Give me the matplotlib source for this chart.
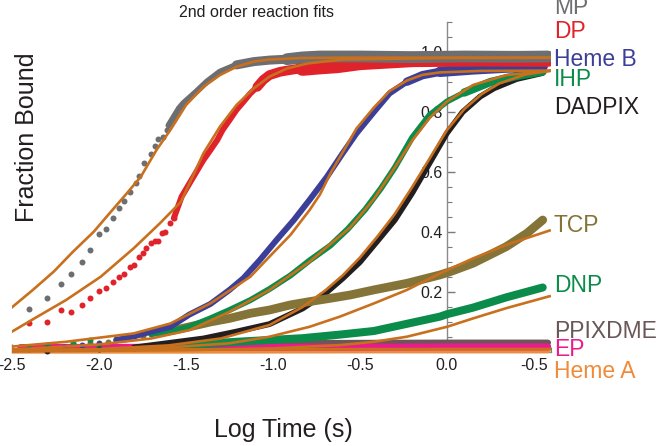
import matplotlib
matplotlib.use('Agg')
import matplotlib.pyplot as plt
from matplotlib.ticker import MultipleLocator, FixedLocator

plt.rcParams['font.family'] = ['Liberation Sans', 'DejaVu Sans']

# ---- data (log time in s, fraction bound) ----
# sparse early points (individual dots)
mp_dot_x = [-2.40, -2.30, -2.22, -2.16, -2.10, -2.05, -2.00, -1.96, -1.92, -1.885, -1.855,
            -1.82, -1.79, -1.77, -1.74, -1.70, -1.68, -1.66, -1.63, -1.61]
mp_dot_y = [0.142, 0.179, 0.227, 0.260, 0.300, 0.339, 0.393, 0.409, 0.448, 0.479, 0.503,
            0.532, 0.564, 0.587, 0.631, 0.660, 0.687, 0.711, 0.716, 0.740]
dp_dot_x = [-2.40, -2.30, -2.22, -2.16, -2.10, -2.05, -2.00, -1.96, -1.92, -1.885, -1.855,
            -1.82, -1.80, -1.77, -1.75, -1.73, -1.70, -1.68, -1.66, -1.64, -1.62, -1.59, -1.57]
dp_dot_y = [0.096, 0.101, 0.140, 0.134, 0.157, 0.179, 0.203, 0.212, 0.234, 0.251, 0.260,
            0.284, 0.290, 0.318, 0.329, 0.346, 0.362, 0.371, 0.370, 0.398, 0.401, 0.429, 0.446]

# dense bands (centre of the cloud of points)
mp_x = [-1.60, -1.54, -1.515, -1.44, -1.38, -1.305, -1.21, -1.11, -1.02, -0.92, -0.83, -0.73,
        -0.50, -0.20, 0.10, 0.40, 0.58]
mp_y = [0.755, 0.812, 0.829, 0.868, 0.901, 0.934, 0.957, 0.968, 0.973, 0.976, 0.982, 0.985,
        0.985, 0.983, 0.985, 0.984, 0.985]
dp_x = [-1.57, -1.525, -1.48, -1.44, -1.40, -1.36, -1.32, -1.29, -1.25, -1.21, -1.17, -1.13,
        -1.09, -1.056, -1.02, -0.96, -0.90, -0.83, -0.73, -0.63, -0.50, -0.20, 0.20, 0.58]
dp_y = [0.446, 0.518, 0.562, 0.601, 0.640, 0.673, 0.707, 0.740, 0.773, 0.807, 0.834, 0.862,
        0.884, 0.907, 0.923, 0.934, 0.940, 0.946, 0.951, 0.955, 0.965, 0.975, 0.977, 0.976]
hemeb_x = [-2.40, -2.30, -2.20, -2.10, -2.00, -1.90, -1.80, -1.70, -1.59, -1.48, -1.36, -1.25,
           -1.17, -1.075, -0.98, -0.88, -0.79, -0.69, -0.60, -0.52, -0.42, -0.33, -0.23, -0.14,
           -0.04, 0.15, 0.34, 0.55]
hemeb_y = [0.010, 0.012, 0.018, 0.022, 0.030, 0.040, 0.052, 0.068, 0.084, 0.125, 0.160, 0.207,
           0.246, 0.307, 0.373, 0.440, 0.507, 0.584, 0.662, 0.729, 0.800, 0.862, 0.901, 0.923,
           0.934, 0.942, 0.948, 0.952]
ihp_x = [-2.40, -2.30, -2.15, -2.05, -1.90, -1.80, -1.70, -1.59, -1.48, -1.36, -1.25, -1.13,
         -1.02, -0.90, -0.79, -0.67, -0.57, -0.47, -0.38, -0.30, -0.20, -0.10, 0.00, 0.10,
         0.25, 0.40, 0.55]
ihp_y = [0.012, 0.022, 0.030, 0.040, 0.045, 0.052, 0.060, 0.068, 0.084, 0.112, 0.140, 0.173,
         0.210, 0.255, 0.305, 0.355, 0.410, 0.475, 0.545, 0.615, 0.715, 0.790, 0.835, 0.865,
         0.900, 0.920, 0.935]
dadpix_x = [-2.30, -2.00, -1.80, -1.60, -1.40, -1.21, -1.02, -0.83, -0.70, -0.60, -0.50, -0.40,
            -0.30, -0.20, -0.10, 0.00, 0.09, 0.19, 0.27, 0.40, 0.55]
dadpix_y = [0.005, 0.010, 0.015, 0.030, 0.045, 0.068, 0.093, 0.145, 0.195, 0.245, 0.300, 0.370,
            0.440, 0.530, 0.630, 0.730, 0.800, 0.851, 0.879, 0.910, 0.930]
tcp_x = [-2.15, -2.05, -1.95, -1.85, -1.75, -1.65, -1.55, -1.48, -1.36, -1.25, -1.13, -1.02,
         -0.90, -0.79, -0.67, -0.557, -0.42, -0.23, -0.04, 0.02, 0.15, 0.34, 0.46, 0.55]
tcp_y = [0.027, 0.030, 0.035, 0.045, 0.055, 0.065, 0.075, 0.084, 0.100, 0.112, 0.129, 0.140,
         0.157, 0.168, 0.179, 0.190, 0.207, 0.229, 0.257, 0.268, 0.296, 0.351, 0.396, 0.440]
dnp_x = [-2.40, -2.30, -2.00, -1.59, -1.21, -0.83, -0.615, -0.42, -0.23, -0.04, 0.00, 0.15,
         0.34, 0.55]
dnp_y = [0.012, 0.020, 0.020, 0.020, 0.034, 0.046, 0.058, 0.070, 0.094, 0.118, 0.126, 0.148,
         0.182, 0.215]
ppixdme_x = [-1.50, -0.60, 0.00, 0.58]
ppixdme_y = [0.028, 0.030, 0.031, 0.031]
ep_x = [-2.45, -1.50, -0.60, 0.00, 0.58]
ep_y = [0.015, 0.016, 0.016, 0.017, 0.017]
hemea_x = [-2.50, -1.50, -0.50, 0.00, 0.58]
hemea_y = [0.004, 0.004, 0.005, 0.005, 0.005]

# second order fits (orange lines)
fit_mp_x = [-2.50, -2.38, -2.26, -2.15, -2.03, -1.94, -1.84, -1.76, -1.67, -1.59, -1.50, -1.40,
            -1.305, -1.21, -1.11, -1.02, -0.83, -0.56, 0.00, 0.59]
fit_mp_y = [0.149, 0.207, 0.268, 0.334, 0.401, 0.462, 0.529, 0.584, 0.673, 0.740, 0.823, 0.884,
            0.923, 0.951, 0.968, 0.975, 0.980, 0.981, 0.981, 0.981]
fit_dp_x = [-2.50, -2.38, -2.19, -1.99, -1.80, -1.65, -1.53, -1.40, -1.305, -1.21, -1.11, -1.02,
            -0.92, -0.80, -0.60, 0.00, 0.59]
fit_dp_y = [0.068, 0.109, 0.173, 0.251, 0.346, 0.429, 0.500, 0.662, 0.751, 0.823, 0.879, 0.918,
            0.945, 0.962, 0.975, 0.980, 0.981]
fit_hemeb_x = [-2.50, -2.19, -1.80, -1.59, -1.36, -1.13, -1.02, -0.90, -0.79, -0.73, -0.67,
               -0.615, -0.52, -0.42, -0.33, -0.23, -0.14, -0.04, 0.20, 0.59]
fit_hemeb_y = [0.018, 0.034, 0.062, 0.095, 0.162, 0.251, 0.318, 0.390, 0.473, 0.525, 0.595,
               0.650, 0.745, 0.815, 0.870, 0.905, 0.924, 0.932, 0.937, 0.938]
fit_ihp_x = [-2.50, -2.00, -1.70, -1.48, -1.25, -1.02, -0.79, -0.557, -0.42, -0.30, -0.20,
             -0.10, 0.00, 0.15, 0.34, 0.59]
fit_ihp_y = [0.008, 0.025, 0.045, 0.073, 0.134, 0.207, 0.301, 0.415, 0.510, 0.615, 0.705,
             0.780, 0.835, 0.890, 0.923, 0.937]
fit_dadpix_x = [-2.50, -2.00, -1.60, -1.30, -1.02, -0.83, -0.70, -0.60, -0.50, -0.40, -0.30,
                -0.20, -0.10, 0.00, 0.10, 0.20, 0.30, 0.45, 0.59]
fit_dadpix_y = [0.004, 0.010, 0.022, 0.045, 0.090, 0.150, 0.205, 0.255, 0.315, 0.385, 0.460,
                0.550, 0.645, 0.740, 0.810, 0.860, 0.895, 0.925, 0.937]
fit_tcp_x = [-2.50, -2.00, -1.60, -1.25, -1.02, -0.79, -0.615, -0.42, -0.23, -0.04, 0.15, 0.34,
             0.59]
fit_tcp_y = [0.003, 0.008, 0.015, 0.029, 0.051, 0.084, 0.118, 0.162, 0.207, 0.262, 0.312, 0.357,
             0.405]
fit_dnp_x = [-2.50, -1.50, -1.00, -0.615, -0.42, -0.23, 0.00, 0.15, 0.34, 0.59]
fit_dnp_y = [0.002, 0.006, 0.012, 0.023, 0.034, 0.051, 0.084, 0.112, 0.146, 0.186]
fit_base_x = [-2.50, -1.00, 0.00, 0.59]
fit_base_y = [0.008, 0.009, 0.010, 0.010]

x_ticks = [-2.5, -2.0, -1.5, -1.0, -0.5, 0.0, 0.5]
x_tick_labels = ['-2.5', '-2.0', '-1.5', '-1.0', '-0.5', '0.0', '-0.5']
y_ticks = [0.2, 0.4, 0.6, 0.8, 1.0]
y_tick_labels = ['0.2', '0.4', '0.6', '0.8', '1.0']

labels = ['MP', 'DP', 'Heme B', 'IHP', 'DADPIX', 'TCP', 'DNP', 'PPIXDME', 'EP', 'Heme A']

C_GRAY = '#6d6e71'
C_RED = '#e0232a'
C_BLUE = '#3c3f98'
C_GREEN = '#0b8c4a'
C_BLACK = '#231f20'
C_OLIVE = '#857437'
C_BROWN = '#6a5757'
C_PINK = '#ec1b8d'
C_ORANGE = '#f08b3a'
C_FIT = '#c9701e'

fig = plt.figure(figsize=(6.58, 4.46), dpi=100)
W, H = 658, 446
# x: -2.5 -> px 12, 174 px per unit ; y: 0 -> py 352, 300 px per unit
ax = fig.add_axes([12 / W, (H - 358) / H, 3.1 * 174 / W, 1.12 * 300 / H])
ax.set_xlim(-2.5, 0.6)
ax.set_ylim(-0.02, 1.1)


def band(x, y, color, lw, z=3):
    ax.plot(x, y, '-', color=color, lw=lw, solid_capstyle='round',
            solid_joinstyle='round', zorder=z)


def dots(x, y, color, z=3):
    ax.plot(x, y, 'o', color=color, ms=4.3, mec='none', zorder=z)


band(hemea_x, hemea_y, C_ORANGE, 4.0)
band(ppixdme_x, ppixdme_y, C_BROWN, 4.5)
band(ep_x, ep_y, C_PINK, 5.0)
band(dnp_x[3:], dnp_y[3:], C_GREEN, 5.8)
dots(dnp_x[:4], dnp_y[:4], C_GREEN)
band(dadpix_x[2:], dadpix_y[2:], C_BLACK, 4.2)
dots(dadpix_x[:3], dadpix_y[:3], C_BLACK)
band(tcp_x[5:], tcp_y[5:], C_OLIVE, 6.3)
dots(tcp_x[:6], tcp_y[:6], C_OLIVE)
band(ihp_x[6:], ihp_y[6:], C_GREEN, 4.3)
band(ihp_x[-4:], ihp_y[-4:], C_GREEN, 6.0)
dots(ihp_x[:7], ihp_y[:7], C_GREEN)
band(hemeb_x[5:], hemeb_y[5:], C_BLUE, 4.3)
band(hemeb_x[-6:], hemeb_y[-6:], C_BLUE, 6.0)
band(hemeb_x[-4:], hemeb_y[-4:], C_BLUE, 7.5)
dots(hemeb_x[:6], hemeb_y[:6], C_BLUE)
band(dp_x, dp_y, C_RED, 4.3)
band(dp_x[12:], dp_y[12:], C_RED, 7.0)
band(dp_x[17:], dp_y[17:], C_RED, 11.0)
dots(dp_dot_x, dp_dot_y, C_RED)
band(mp_x, mp_y, C_GRAY, 4.5)
band(mp_x[6:], mp_y[6:], C_GRAY, 6.5)
band(mp_x[9:], mp_y[9:], C_GRAY, 8.5)
dots(mp_dot_x, mp_dot_y, C_GRAY)

for fx, fy in [(fit_mp_x, fit_mp_y), (fit_dp_x, fit_dp_y), (fit_hemeb_x, fit_hemeb_y),
               (fit_ihp_x, fit_ihp_y), (fit_dadpix_x, fit_dadpix_y), (fit_tcp_x, fit_tcp_y),
               (fit_dnp_x, fit_dnp_y), (fit_base_x, fit_base_y)]:
    ax.plot(fx, fy, '-', color=C_FIT, lw=1.9, zorder=5, solid_joinstyle='round')

# axes through the origin
for s in ['top', 'right']:
    ax.spines[s].set_visible(False)
ax.spines['left'].set_position(('data', 0))
ax.spines['bottom'].set_position(('data', 0))
ax.spines['left'].set_bounds(0, 1.1)
ax.spines['bottom'].set_bounds(-2.5, 0.6)
for s in ['left', 'bottom']:
    ax.spines[s].set_color('#8a8a8a')
    ax.spines[s].set_linewidth(1.0)
    ax.spines[s].set_zorder(2)

ax.xaxis.set_major_locator(FixedLocator(x_ticks))
ax.set_xticklabels(x_tick_labels)
ax.xaxis.set_minor_locator(MultipleLocator(0.1))
ax.yaxis.set_major_locator(FixedLocator(y_ticks))
ax.set_yticklabels(y_tick_labels)
ax.yaxis.set_minor_locator(FixedLocator([v / 20 for v in range(1, 23) if v % 4 != 0]))
ax.tick_params(axis='both', which='major', direction='in', length=6, width=1.0,
               color='#7a7a7a', labelsize=11.5, labelcolor=C_BLACK)
ax.tick_params(axis='both', which='minor', direction='in', length=3.5, width=0.8,
               color='#7a7a7a')
ax.tick_params(axis='x', which='major', pad=4)
ax.tick_params(axis='y', which='major', pad=3)
ax.set_facecolor('none')

fig.text(0.39, 0.972, '2nd order reaction fits', fontsize=11.5, ha='center', va='center',
         color=C_BLACK)
fig.text(283 / W, 1 - 430 / H, 'Log Time (s)', fontsize=18, ha='center', va='center',
         color=C_BLACK)
fig.text(27 / W, 1 - 137 / H, 'Fraction Bound', fontsize=18, ha='center', va='center',
         rotation=90, color=C_BLACK)

label_colors = [C_GRAY, C_RED, C_BLUE, C_GREEN, C_BLACK, C_OLIVE, C_GREEN, C_BROWN, C_PINK,
                C_ORANGE]
label_py = [8, 32, 59, 80, 107, 225, 286, 332, 349, 371]
for name, col, py in zip(labels, label_colors, label_py):
    fig.text(554 / W, 1 - py / H, name, fontsize=16.5, color=col, ha='left', va='center')

fig.savefig('out.png', dpi=100)
